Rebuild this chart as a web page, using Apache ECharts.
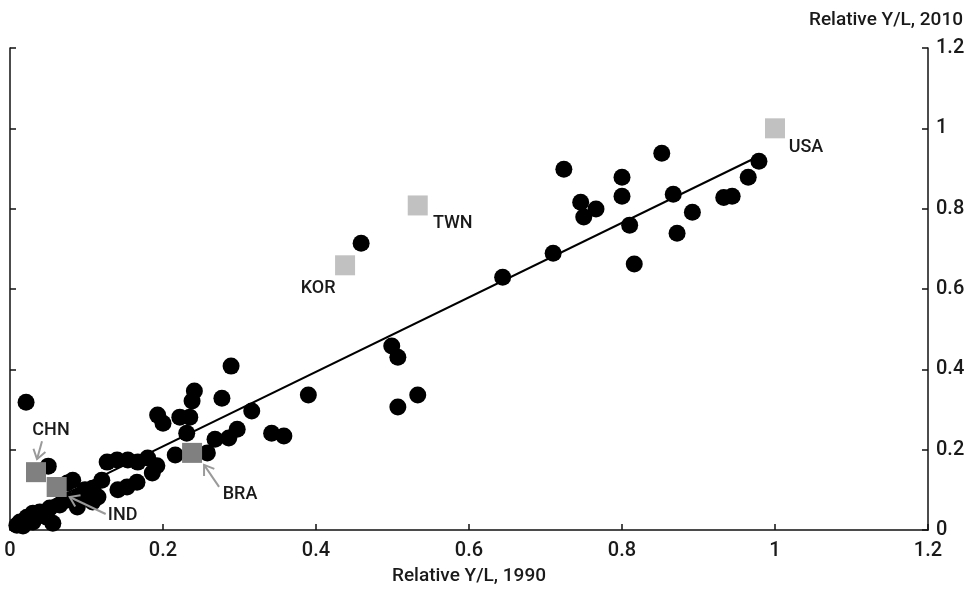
<!DOCTYPE html>
<html>
    <head>
        <meta charset="utf-8">
        <script src="https://cdn.jsdelivr.net/npm/echarts@6/dist/echarts.min.js"></script>
        <style>
            html, body {
                margin: 0;
                background: #fff;
            }
            #main {
                width: 975px;
                height: 594px;
            }
        </style>
    </head>
    <body>
        <div id="main"></div>

        <script>
        // relative output per worker, 1990 vs 2010 (USA = 1)
        const x1990 = [
            0.724, 0.746, 0.766, 0.750, 0.800, 0.800, 0.852, 0.867, 0.892, 0.810, 0.872, 0.816,
            0.933, 0.944, 0.965, 0.979, 0.710, 0.644, 0.459, 0.499, 0.507, 0.390, 0.507, 0.533,
            0.289, 0.241, 0.238, 0.277, 0.193, 0.200, 0.222, 0.235, 0.231, 0.316, 0.297, 0.286,
            0.268, 0.342, 0.358, 0.258, 0.216,
            0.127, 0.140, 0.154, 0.167, 0.180, 0.192, 0.186, 0.166, 0.153, 0.141,
            0.120, 0.115, 0.108, 0.108, 0.098, 0.082, 0.075, 0.050, 0.108, 0.089, 0.075, 0.088,
            0.065, 0.052, 0.039, 0.030, 0.022, 0.013, 0.009, 0.017, 0.030, 0.048, 0.056, 0.021
        ];
        const y2010 = [
            0.898, 0.816, 0.799, 0.779, 0.878, 0.831, 0.938, 0.836, 0.791, 0.759, 0.739, 0.662,
            0.828, 0.831, 0.878, 0.918, 0.689, 0.629, 0.714, 0.458, 0.430, 0.336, 0.306, 0.336,
            0.408, 0.346, 0.321, 0.328, 0.286, 0.266, 0.281, 0.281, 0.241, 0.296, 0.251, 0.229,
            0.226, 0.241, 0.234, 0.192, 0.187,
            0.169, 0.174, 0.174, 0.169, 0.179, 0.160, 0.142, 0.119, 0.107, 0.100,
            0.124, 0.082, 0.070, 0.104, 0.100, 0.124, 0.117, 0.159, 0.075, 0.082, 0.075, 0.057,
            0.062, 0.055, 0.045, 0.042, 0.032, 0.020, 0.012, 0.010, 0.020, 0.032, 0.017, 0.318
        ];

        const countries = ['CHN', 'IND', 'BRA', 'KOR', 'TWN', 'USA'];
        const countryX = [0.034, 0.061, 0.238, 0.438, 0.533, 1.0];
        const countryY = [0.144, 0.107, 0.192, 0.659, 0.808, 1.0];

        // fitted line end points
        const fitX = [0.01, 0.976];
        const fitY = [0.032, 0.928];

        // annotation layout (pixel offsets from the country marker)
        const darkSquares = ['CHN', 'IND', 'BRA'];
        const labelOffset = {
            CHN: [15, -42], IND: [66, 28], BRA: [48, 42],
            KOR: [-27, 23], TWN: [35, 18], USA: [31, 19]
        };
        const arrowOffset = {
            CHN: [[6, -31], [1, -13]],
            IND: [[49, 27], [13, 10]],
            BRA: [[27, 34], [12, 12]]
        };

        const FONT = 'Roboto, "Liberation Sans", sans-serif';
        const TEXT = '#1a1a1a';

        const dots = x1990.map(function (x, i) { return [x, y2010[i]]; });
        const fit = fitX.map(function (x, i) { return [x, fitY[i]]; });

        const squares = countries.map(function (c, i) {
            return {
                name: c,
                value: [countryX[i], countryY[i]],
                itemStyle: { color: darkSquares.indexOf(c) >= 0 ? '#808080' : '#c1c1c1' },
                label: { offset: labelOffset[c] }
            };
        });

        const arrows = countries.filter(function (c) { return arrowOffset[c]; }).map(function (c) {
            const i = countries.indexOf(c);
            return { name: c, value: [countryX[i], countryY[i]] };
        });

        function renderArrow(params, api) {
            const name = arrows[params.dataIndex].name;
            const p = api.coord([api.value(0), api.value(1)]);
            const off = arrowOffset[name];
            const tail = [p[0] + off[0][0], p[1] + off[0][1]];
            const tip = [p[0] + off[1][0], p[1] + off[1][1]];
            const ang = Math.atan2(tail[1] - tip[1], tail[0] - tip[0]);
            const len = 11, spread = 0.6;
            const h1 = [tip[0] + len * Math.cos(ang + spread), tip[1] + len * Math.sin(ang + spread)];
            const h2 = [tip[0] + len * Math.cos(ang - spread), tip[1] + len * Math.sin(ang - spread)];
            const style = { stroke: '#9a9a9a', lineWidth: 2, fill: null };
            return {
                type: 'group',
                children: [
                    { type: 'line', shape: { x1: tail[0], y1: tail[1], x2: tip[0], y2: tip[1] }, style: style },
                    { type: 'polyline', shape: { points: [h1, tip, h2] }, style: style }
                ]
            };
        }

        const chart = echarts.init(document.getElementById('main'));

        const yAxisBase = {
            type: 'value',
            min: 0,
            max: 1.2,
            interval: 0.2,
            splitLine: { show: false },
            axisLine: { show: true, lineStyle: { color: '#111', width: 1.5 } },
            axisTick: { show: true, inside: true, length: 6, lineStyle: { color: '#111', width: 1.5 } }
        };

        chart.setOption({
            animation: false,
            title: {
                text: 'Relative Y/L, 2010',
                right: 7,
                top: 6,
                textStyle: { fontFamily: FONT, fontSize: 19, fontWeight: 500, color: TEXT }
            },
            grid: { left: 10, right: 47, top: 48, bottom: 64, outerBoundsMode: 'none' },
            xAxis: {
                type: 'value',
                min: 0,
                max: 1.2,
                interval: 0.2,
                name: 'Relative Y/L, 1990',
                nameLocation: 'middle',
                nameGap: 37,
                nameTextStyle: { fontFamily: FONT, fontSize: 19, fontWeight: 500, color: TEXT },
                splitLine: { show: false },
                axisLine: { show: true, onZero: false, lineStyle: { color: '#111', width: 1.5 } },
                axisTick: { show: true, inside: true, length: 6, lineStyle: { color: '#111', width: 1.5 } },
                axisLabel: {
                    fontFamily: FONT, fontSize: 20, fontWeight: 500, color: TEXT, margin: 11,
                    showMinLabel: true, showMaxLabel: true
                }
            },
            yAxis: [
                Object.assign({}, yAxisBase, {
                    position: 'left',
                    axisLabel: { show: false }
                }),
                Object.assign({}, yAxisBase, {
                    position: 'right',
                    axisLabel: { fontFamily: FONT, fontSize: 20, fontWeight: 500, color: TEXT, margin: 8 }
                })
            ],
            series: [
                {
                    type: 'line',
                    data: fit,
                    showSymbol: false,
                    symbol: 'none',
                    lineStyle: { color: '#000', width: 2 },
                    z: 1
                },
                {
                    type: 'scatter',
                    data: dots,
                    symbol: 'circle',
                    symbolSize: 17,
                    itemStyle: { color: '#000', opacity: 1 },
                    z: 2
                },
                {
                    type: 'scatter',
                    data: squares,
                    symbol: 'rect',
                    symbolSize: 20,
                    itemStyle: { opacity: 1 },
                    label: {
                        show: true,
                        position: 'inside',
                        formatter: '{b}',
                        fontFamily: FONT,
                        fontSize: 18,
                        fontWeight: 500,
                        color: TEXT
                    },
                    z: 3
                },
                {
                    type: 'custom',
                    data: arrows,
                    renderItem: renderArrow,
                    silent: true,
                    z: 4
                }
            ]
        });
        </script>
    </body>
</html>
